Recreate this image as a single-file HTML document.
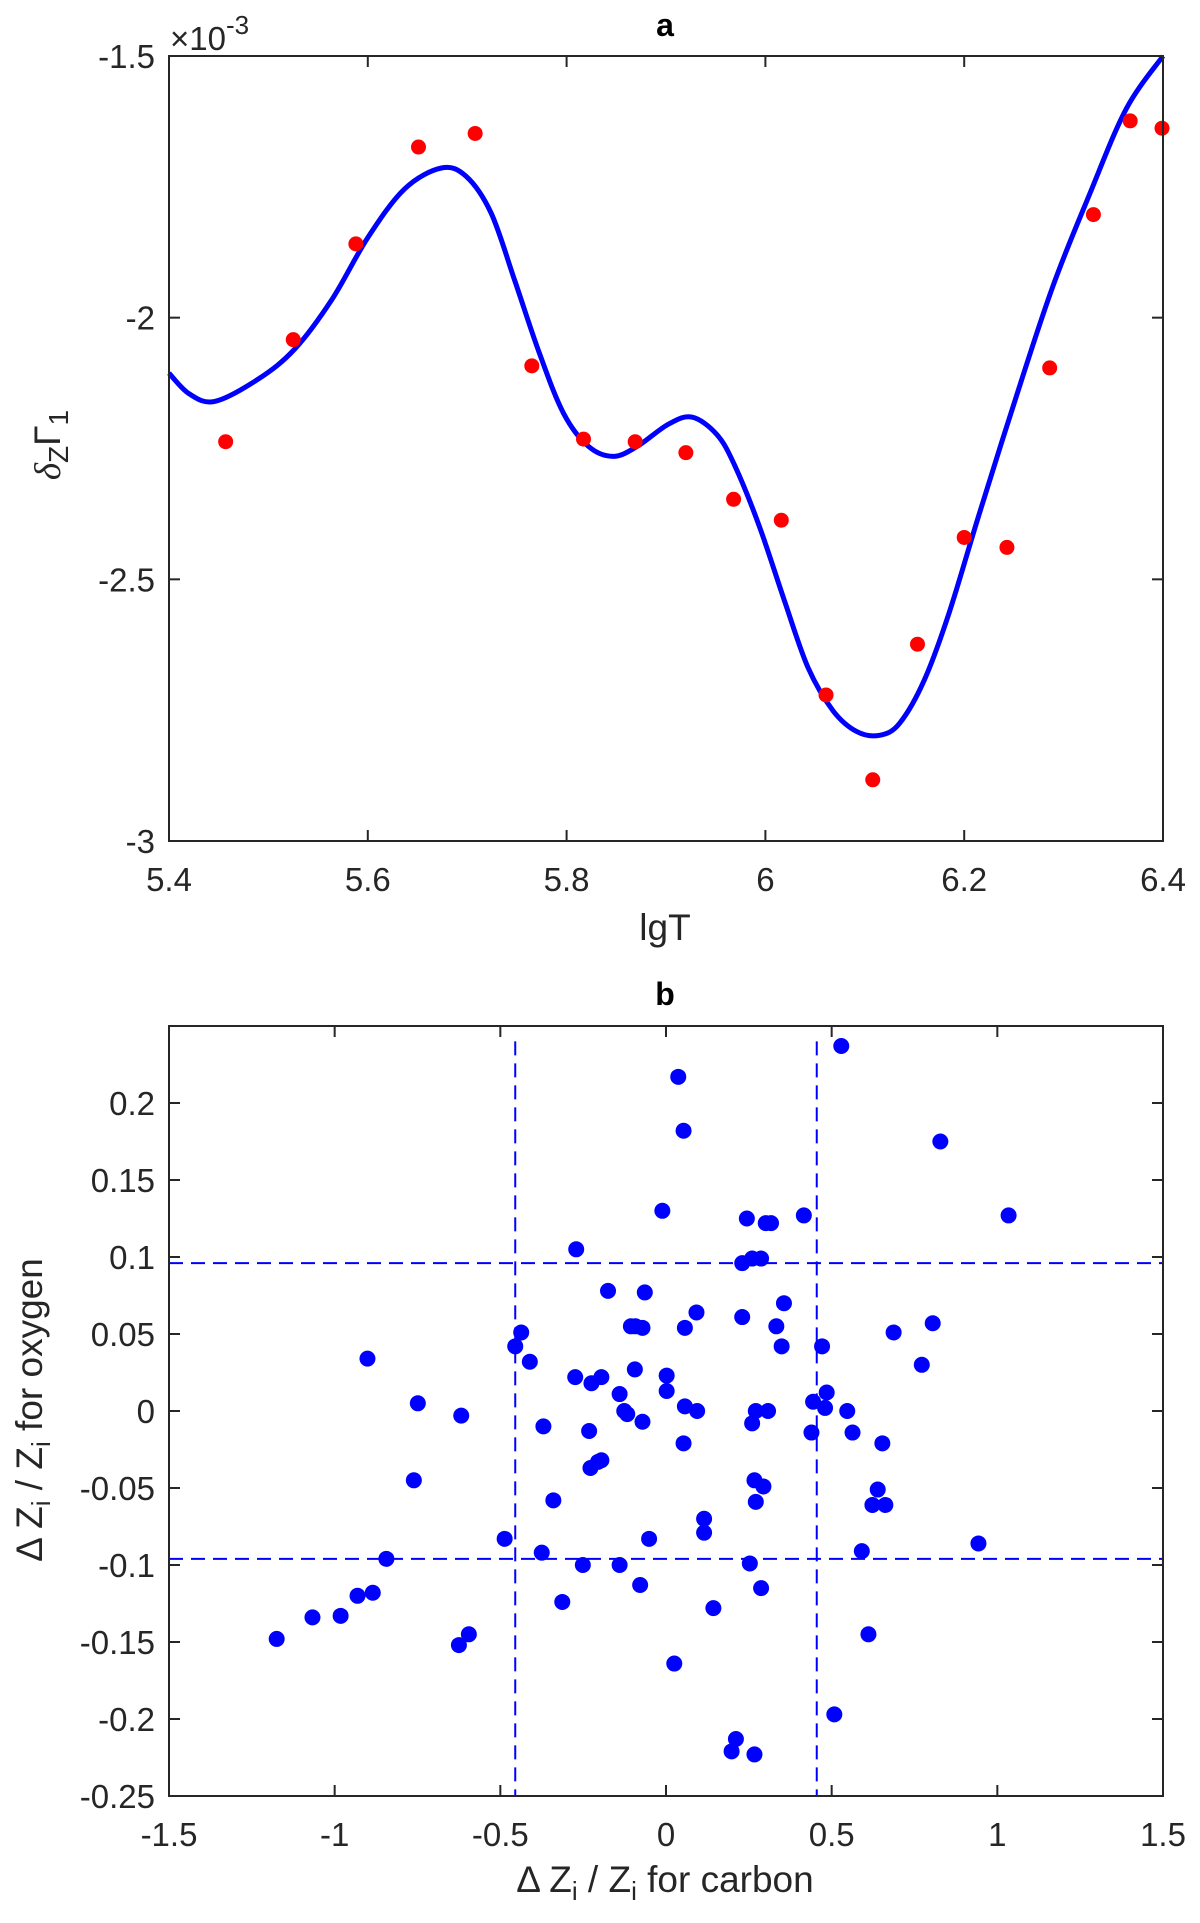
<!DOCTYPE html>
<html><head><meta charset="utf-8"><style>
html,body{margin:0;padding:0;background:#fff;}
svg{display:block;font-family:"Liberation Sans",Arial,sans-serif;}
.tk{font-size:33px;fill:#262626;}
.lbl{font-size:37px;fill:#262626;}
.ttl{font-size:32px;font-weight:bold;fill:#000;}
</style></head><body>
<svg id="fig" width="1200" height="1923" viewBox="0 0 1200 1923" xmlns="http://www.w3.org/2000/svg">
<g id="pa"></g>
<g id="pb"></g>
</svg>
<script>
// Panel a data
const aXTicks = [5.4, 5.6, 5.8, 6, 6.2, 6.4];
const aXTickLabels = ["5.4","5.6","5.8","6","6.2","6.4"];
const aYTicks = [-1.5, -2, -2.5, -3];
const aYTickLabels = ["-1.5","-2","-2.5","-3"];
const aPtsX = [5.457,5.525,5.588,5.651,5.708,5.765,5.817,5.869,5.920,5.968,6.016,6.061,6.108,6.153,6.200,6.243,6.286,6.330,6.367,6.399];
const aPtsY = [-2.237,-2.042,-1.859,-1.674,-1.648,-2.092,-2.232,-2.237,-2.258,-2.347,-2.387,-2.721,-2.883,-2.624,-2.420,-2.439,-2.096,-1.803,-1.624,-1.638];
const aCurveX = [5.4,5.42,5.446,5.49,5.527,5.564,5.600,5.637,5.674,5.699,5.724,5.748,5.773,5.797,5.822,5.847,5.871,5.902,5.926,5.951,5.969,5.994,6.019,6.043,6.068,6.092,6.115,6.135,6.160,6.185,6.215,6.252,6.289,6.326,6.363,6.4];
const aCurveY = [-2.106,-2.145,-2.160,-2.117,-2.059,-1.965,-1.847,-1.754,-1.714,-1.730,-1.800,-1.930,-2.070,-2.183,-2.246,-2.265,-2.246,-2.204,-2.190,-2.223,-2.282,-2.399,-2.540,-2.669,-2.751,-2.791,-2.798,-2.775,-2.692,-2.563,-2.376,-2.153,-1.941,-1.765,-1.601,-1.5];
// Panel b data
const bXTicks = [-1.5,-1,-0.5,0,0.5,1,1.5];
const bXTickLabels = ["-1.5","-1","-0.5","0","0.5","1","1.5"];
const bYTicks = [0.2,0.15,0.1,0.05,0,-0.05,-0.1,-0.15,-0.2,-0.25];
const bYTickLabels = ["0.2","0.15","0.1","0.05","0","-0.05","-0.1","-0.15","-0.2","-0.25"];
const bVLines = [-0.455, 0.455];
const bHLines = [0.096, -0.096];
const bX = [0.529,0.037,0.053,0.828,1.034,-0.011,0.244,0.301,0.317,0.416,-0.271,0.230,0.260,0.287,-0.175,-0.064,0.356,0.092,-0.106,-0.092,-0.071,0.057,0.230,0.333,-0.437,-0.455,0.349,0.471,0.687,0.805,0.772,-0.411,-0.901,-0.749,-0.618,-0.370,-0.274,-0.225,-0.195,-0.094,0.002,0.002,-0.140,-0.126,-0.117,-0.071,0.057,0.094,-0.232,0.053,0.260,0.271,0.308,0.444,0.485,0.480,0.547,0.563,0.439,0.653,-0.761,-0.228,-0.205,-0.195,-0.340,0.267,0.294,0.271,0.639,0.623,0.662,0.115,0.115,-0.487,-0.051,0.943,0.591,-0.375,-0.844,-0.251,-0.140,0.253,-0.931,-0.885,-0.982,-1.067,-0.078,0.287,-0.313,0.143,-1.175,-0.625,-0.595,0.611,0.025,0.508,0.211,0.198,0.267];
const bY = [0.237,0.217,0.182,0.175,0.127,0.130,0.125,0.122,0.122,0.127,0.105,0.096,0.099,0.099,0.078,0.077,0.070,0.064,0.055,0.055,0.054,0.054,0.061,0.055,0.051,0.042,0.042,0.042,0.051,0.057,0.030,0.032,0.034,0.005,-0.003,-0.010,0.022,0.018,0.022,0.027,0.023,0.013,0.011,0,-0.002,-0.007,0.003,0,-0.013,-0.021,-0.008,0,0,0.006,0.012,0.002,0,-0.014,-0.014,-0.021,-0.045,-0.037,-0.033,-0.032,-0.058,-0.045,-0.049,-0.059,-0.051,-0.061,-0.061,-0.070,-0.079,-0.083,-0.083,-0.086,-0.091,-0.092,-0.096,-0.100,-0.100,-0.099,-0.120,-0.118,-0.133,-0.134,-0.113,-0.115,-0.124,-0.128,-0.148,-0.152,-0.145,-0.145,-0.164,-0.197,-0.213,-0.221,-0.223];

const NS="http://www.w3.org/2000/svg";
function mk(parent,tag,attrs,text){const e=document.createElementNS(NS,tag);for(const k in attrs)e.setAttribute(k,attrs[k]);if(text!==undefined)e.textContent=text;parent.appendChild(e);return e;}
const L=169,R=1163;
function lin(d0,d1,r0,r1){return v=>r0+(v-d0)/(d1-d0)*(r1-r0);}
function smoothPath(P){let d='M'+P[0][0].toFixed(1)+','+P[0][1].toFixed(1);
 for(let i=0;i<P.length-1;i++){const p0=P[Math.max(i-1,0)],p1=P[i],p2=P[i+1],p3=P[Math.min(i+2,P.length-1)];
  const c1x=p1[0]+(p2[0]-p0[0])/6,c1y=p1[1]+(p2[1]-p0[1])/6,c2x=p2[0]-(p3[0]-p1[0])/6,c2y=p2[1]-(p3[1]-p1[1])/6;
  d+='C'+c1x.toFixed(1)+','+c1y.toFixed(1)+' '+c2x.toFixed(1)+','+c2y.toFixed(1)+' '+p2[0].toFixed(1)+','+p2[1].toFixed(1);}
 return d;}

// ---------- Panel a ----------
const pa=document.getElementById('pa');
const aT=56,aB=841;
const ax=lin(5.4,6.4,L,R), ay=lin(-1.5,-3,aT,aB);
let e;
e=mk(pa,'text',{x:665,y:36,'text-anchor':'middle',class:'ttl'},'a');


aXTicks.forEach((t,i)=>{const x=ax(t);
 mk(pa,'line',{x1:x,y1:aB,x2:x,y2:aB-11,stroke:'#262626','stroke-width':2});
 mk(pa,'line',{x1:x,y1:aT,x2:x,y2:aT+11,stroke:'#262626','stroke-width':2});
 e=mk(pa,'text',{x:x,y:891,'text-anchor':'middle',class:'tk'},aXTickLabels[i]);
 
 });
aYTicks.forEach((t,i)=>{const y=ay(t);
 mk(pa,'line',{x1:L,y1:y,x2:L+11,y2:y,stroke:'#262626','stroke-width':2});
 mk(pa,'line',{x1:R,y1:y,x2:R-11,y2:y,stroke:'#262626','stroke-width':2});
 e=mk(pa,'text',{x:155,y:y+12,'text-anchor':'end',class:'tk'},aYTickLabels[i]);
 
 });
e=mk(pa,'text',{x:170,y:50,class:'tk','font-size':'36'});
e.innerHTML='<tspan>×10</tspan><tspan dy="-16" font-size="26">-3</tspan>';


// curve
const cp=aCurveX.map((v,i)=>[ax(v),ay(aCurveY[i])]);
e=mk(pa,'path',{d:smoothPath(cp),fill:'none',stroke:'#0000ff','stroke-width':5,'stroke-linejoin':'round'});


aPtsX.forEach((v,i)=>{e=mk(pa,'circle',{cx:ax(v),cy:ay(aPtsY[i]),r:7.5,fill:'#ff0000'});
 
 });
e=mk(pa,'rect',{x:L,y:aT,width:R-L,height:aB-aT,fill:'none',stroke:'#262626','stroke-width':2});


e=mk(pa,'text',{x:665,y:940,'text-anchor':'middle',class:'lbl'},'lgT');


e=mk(pa,'text',{x:0,y:0,transform:'translate(60,445) rotate(-90)','text-anchor':'middle',class:'lbl'});
e.innerHTML='<tspan font-family="Liberation Serif" font-style="italic">δ</tspan><tspan dy="8" font-size="28">Z</tspan><tspan dy="-8">Γ</tspan><tspan dy="8" font-size="28">1</tspan>';



// ---------- Panel b ----------
const pb=document.getElementById('pb');
const bT=1026,bB=1796;
const bx=lin(-1.5,1.5,L,R), by=lin(0.25,-0.25,bT,bB);
e=mk(pb,'text',{x:665,y:1005,'text-anchor':'middle',class:'ttl'},'b');


bXTicks.forEach((t,i)=>{const x=bx(t);
 mk(pb,'line',{x1:x,y1:bB,x2:x,y2:bB-11,stroke:'#262626','stroke-width':2});
 mk(pb,'line',{x1:x,y1:bT,x2:x,y2:bT+11,stroke:'#262626','stroke-width':2});
 e=mk(pb,'text',{x:x,y:1846,'text-anchor':'middle',class:'tk'},bXTickLabels[i]);
 
 });
bYTicks.forEach((t,i)=>{const y=by(t);
 mk(pb,'line',{x1:L,y1:y,x2:L+11,y2:y,stroke:'#262626','stroke-width':2});
 mk(pb,'line',{x1:R,y1:y,x2:R-11,y2:y,stroke:'#262626','stroke-width':2});
 e=mk(pb,'text',{x:155,y:y+12,'text-anchor':'end',class:'tk'},bYTickLabels[i]);
 
 });
bVLines.forEach(v=>{e=mk(pb,'line',{x1:bx(v),y1:by(0.24),x2:bx(v),y2:bB,stroke:'#0000ff','stroke-width':2,'stroke-dasharray':'14,8'});
 
 });
bHLines.forEach(v=>{e=mk(pb,'line',{x1:L,y1:by(v),x2:R,y2:by(v),stroke:'#0000ff','stroke-width':2,'stroke-dasharray':'14,8'});
 
 });
bX.forEach((v,i)=>{e=mk(pb,'circle',{cx:bx(v),cy:by(bY[i]),r:8,fill:'#0000ff'});
 
 });
e=mk(pb,'rect',{x:L,y:bT,width:R-L,height:bB-bT,fill:'none',stroke:'#262626','stroke-width':2});


e=mk(pb,'text',{x:665,y:1892,'text-anchor':'middle',class:'lbl'});
e.innerHTML='Δ Z<tspan dy="8" font-size="26">i</tspan><tspan dy="-8"> / Z</tspan><tspan dy="8" font-size="26">i</tspan><tspan dy="-8"> for carbon</tspan>';


e=mk(pb,'text',{x:0,y:0,transform:'translate(42,1410) rotate(-90)','text-anchor':'middle',class:'lbl'});
e.innerHTML='Δ Z<tspan dy="8" font-size="26">i</tspan><tspan dy="-8"> / Z</tspan><tspan dy="8" font-size="26">i</tspan><tspan dy="-8"> for oxygen</tspan>';


</script>
</body></html>
